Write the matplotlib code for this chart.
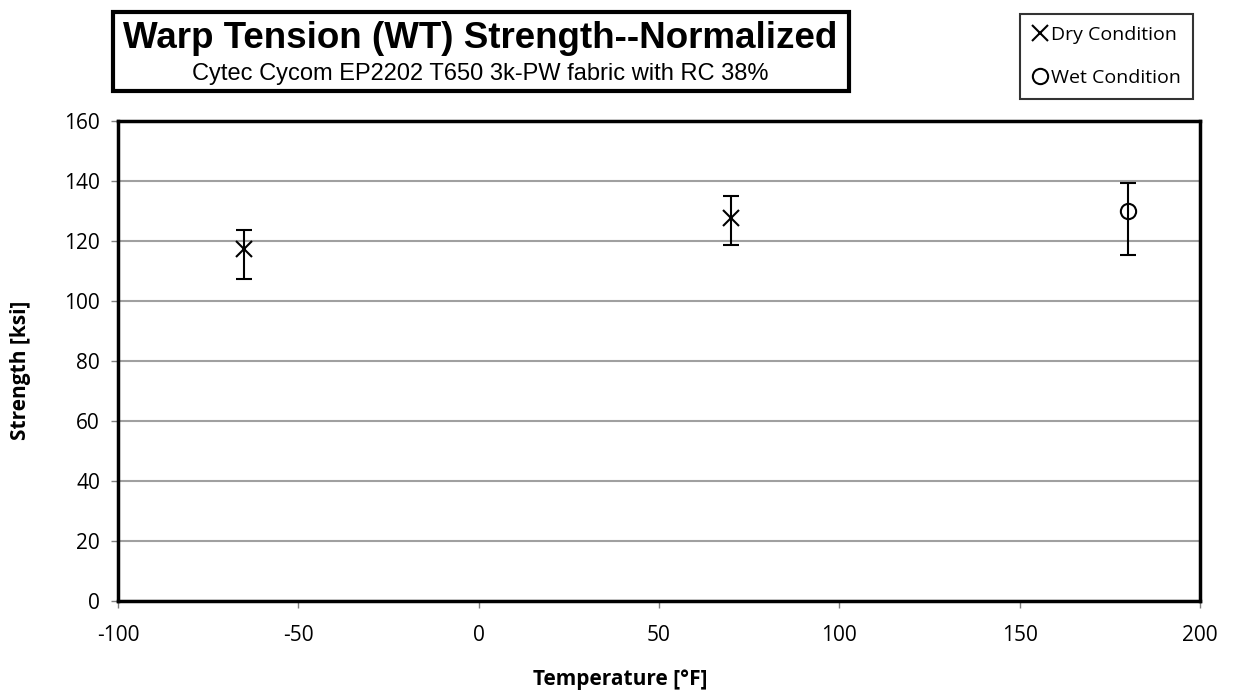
import matplotlib
matplotlib.use("Agg")
import matplotlib.pyplot as plt
from matplotlib.patches import Rectangle
from matplotlib.lines import Line2D

# data
dry_temp = [-65, 70]
dry_strength = [117.2, 127.6]
dry_low = [107.4, 118.6]
dry_high = [123.8, 135.0]

wet_temp = [180]
wet_strength = [130.1]
wet_low = [115.2]
wet_high = [139.3]

xticks = [-100, -50, 0, 50, 100, 150, 200]
yticks = [0, 20, 40, 60, 80, 100, 120, 140, 160]

plt.rcParams['font.family'] = ['Open Sans', 'DejaVu Sans']
plt.rcParams['axes.unicode_minus'] = False

fig = plt.figure(figsize=(12.34, 6.94), dpi=100)
ax = fig.add_axes([0.0956, 0.134, 0.8768, 0.6916])

def errs(vals, low, high):
    return [[v - l for v, l in zip(vals, low)], [h - v for v, h in zip(vals, high)]]

ax.errorbar(dry_temp, dry_strength, yerr=errs(dry_strength, dry_low, dry_high),
            fmt='x', color='black', ms=11, mew=1.5, elinewidth=1.5, capsize=6, capthick=1.5,
            zorder=3)
ax.errorbar(wet_temp, wet_strength, yerr=errs(wet_strength, wet_low, wet_high),
            fmt='o', color='black', mfc='none', ms=11, mew=1.5, elinewidth=1.5, capsize=6,
            capthick=1.5, zorder=3)

ax.set_xlim(-100, 200)
ax.set_ylim(0, 160)
ax.set_xticks(xticks)
ax.set_yticks(yticks)
ax.yaxis.grid(True, color='#a0a0a0', lw=1.5)
ax.set_axisbelow(True)
for s in ax.spines.values():
    s.set_linewidth(2.5)
    s.set_color('black')
ax.tick_params(axis='both', labelsize=15, length=5, width=1, color='#808080')
ax.tick_params(axis='x', pad=12)
ax.tick_params(axis='y', pad=8)

# axis titles, centred on the chart area like Excel does
fig.text(620 / 1234, 1 - 679 / 694, 'Temperature [°F]', ha='center', va='center',
         fontsize=15, fontweight='bold')
fig.text(21 / 1234, 1 - 370 / 694, 'Strength [ksi]', ha='center', va='center',
         rotation=90, fontsize=15, fontweight='bold')

# title box
fig.patches.append(Rectangle((113 / 1234, 1 - 91 / 694), 736 / 1234, 79 / 694,
                             transform=fig.transFigure, fill=False, lw=3, ec='black'))
fig.text(480 / 1234, 1 - 39 / 694, 'Warp Tension (WT) Strength--Normalized', ha='center',
         va='center', fontsize=26.5, fontweight='bold',
         family=['Liberation Sans Narrow', 'Liberation Sans', 'DejaVu Sans'])
fig.text(480 / 1234, 1 - 74 / 694, 'Cytec Cycom EP2202 T650 3k-PW fabric with RC 38%',
         ha='center', va='center', fontsize=17,
         family=['Liberation Sans Narrow', 'Liberation Sans', 'DejaVu Sans'])

# legend box
handles = [Line2D([], [], ls='none', marker='x', color='black', ms=11, mew=1.5),
           Line2D([], [], ls='none', marker='o', mfc='none', color='black', ms=11, mew=1.5)]
leg = fig.legend(handles, ['Dry Condition', 'Wet Condition'], loc='upper right',
                 bbox_to_anchor=(1193 / 1234, 1 - 14 / 694), bbox_transform=fig.transFigure,
                 frameon=True, fancybox=False, edgecolor='black', fontsize=14,
                 handlelength=0.8, handletextpad=0.2, borderpad=0.6, labelspacing=1.3,
                 borderaxespad=0)
leg.get_frame().set_linewidth(1.5)

fig.savefig('out.png', dpi=100)
